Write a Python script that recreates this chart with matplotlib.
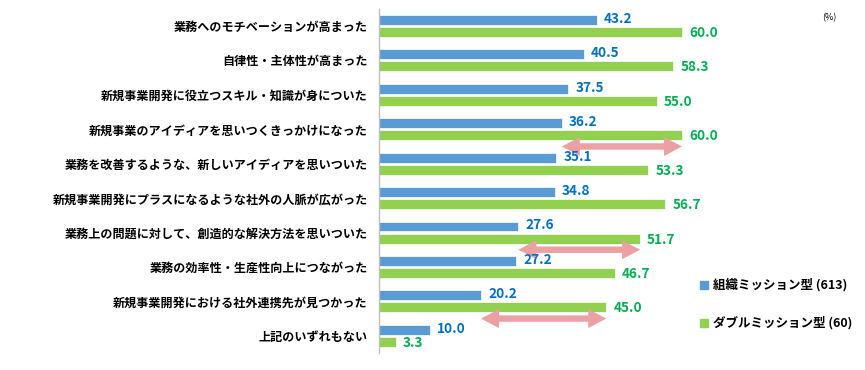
import matplotlib
matplotlib.use("Agg")
import matplotlib.pyplot as plt
from matplotlib.patches import Polygon
import numpy as np

plt.rcParams['font.family'] = ['Noto Sans CJK JP', 'DejaVu Sans']

categories = [
    "業務へのモチベーションが高まった",
    "自律性・主体性が高まった",
    "新規事業開発に役立つスキル・知識が身についた",
    "新規事業のアイディアを思いつくきっかけになった",
    "業務を改善するような、新しいアイディアを思いついた",
    "新規事業開発にプラスになるような社外の人脈が広がった",
    "業務上の問題に対して、創造的な解決方法を思いついた",
    "業務の効率性・生産性向上につながった",
    "新規事業開発における社外連携先が見つかった",
    "上記のいずれもない",
]
org_mission = [43.2, 40.5, 37.5, 36.2, 35.1, 34.8, 27.6, 27.2, 20.2, 10.0]
double_mission = [60.0, 58.3, 55.0, 60.0, 53.3, 56.7, 51.7, 46.7, 45.0, 3.3]
series_names = ["組織ミッション型 (613)", "ダブルミッション型 (60)"]
arrow_rows = [3, 6, 8]

blue = "#5B9BD5"
green = "#92D050"
blue_txt = "#0070C0"
green_txt = "#00B050"
pink = "#EBA0A4"

fig = plt.figure(figsize=(8.65, 3.7), dpi=100)
W, H = 865, 370
ax_left, ax_top, ax_bot = 379, 8.8, 353
xmax = 80
px = 5.05
ax_right = ax_left + px * xmax
ax = fig.add_axes([ax_left / W, 1 - ax_bot / H, (ax_right - ax_left) / W, (ax_bot - ax_top) / H])

y = np.arange(len(categories))
h = 0.29
off = 0.175
ax.barh(y - off, org_mission, height=h, color=blue, edgecolor='white', linewidth=0.5)
ax.barh(y + off, double_mission, height=h, color=green, edgecolor='white', linewidth=0.5)

for i in range(len(categories)):
    ax.text(org_mission[i] + 1.4, y[i] - off - 0.03, f"{org_mission[i]:.1f}", va='center', ha='left',
            color=blue_txt, fontsize=9.8, fontweight='bold', zorder=5)
    ax.text(double_mission[i] + 1.4, y[i] + off + 0.03, f"{double_mission[i]:.1f}", va='center', ha='left',
            color=green_txt, fontsize=9.8, fontweight='bold', zorder=5)

ax.set_xlim(0, xmax)
ax.set_ylim(len(categories) - 0.5, -0.5)
ax.set_yticks(y)
ax.set_yticklabels(categories, fontsize=8.7, fontweight='bold')
ax.tick_params(axis='y', length=0, pad=8)
ax.set_xticks([])
for s in ['top', 'right', 'bottom']:
    ax.spines[s].set_visible(False)
ax.spines['left'].set_color('#BFBFBF')
ax.spines['left'].set_linewidth(1)

# double-headed arrows (single polygon each)
uy = 1 / 34.4
for r in arrow_rows:
    x0, x1 = org_mission[r], double_mission[r]
    yy = r + 0.5
    hl = 18 / px
    sw = 3.2 * uy
    hw = 9.5 * uy
    pts = [
        (x0, yy), (x0 + hl, yy - hw), (x0 + hl, yy - sw), (x1 - hl, yy - sw),
        (x1 - hl, yy - hw), (x1, yy), (x1 - hl, yy + hw), (x1 - hl, yy + sw),
        (x0 + hl, yy + sw), (x0 + hl, yy + hw),
    ]
    ax.add_patch(Polygon(pts, closed=True, facecolor=pink, edgecolor='none', zorder=3))

# legend
for col, name, ly in [(blue, series_names[0], 285), (green, series_names[1], 323)]:
    fig.patches.append(plt.Rectangle((700 / W, 1 - (ly + 4) / H), 8 / W, 8 / H,
                                     transform=fig.transFigure, color=col, figure=fig))
    fig.text(713 / W, 1 - ly / H, name, fontsize=9, fontweight='bold', va='center', ha='left')

fig.text(822 / W, 1 - 18 / H, "(%)", fontsize=6.5, va='center', ha='left')

fig.savefig("out.png", dpi=100)
